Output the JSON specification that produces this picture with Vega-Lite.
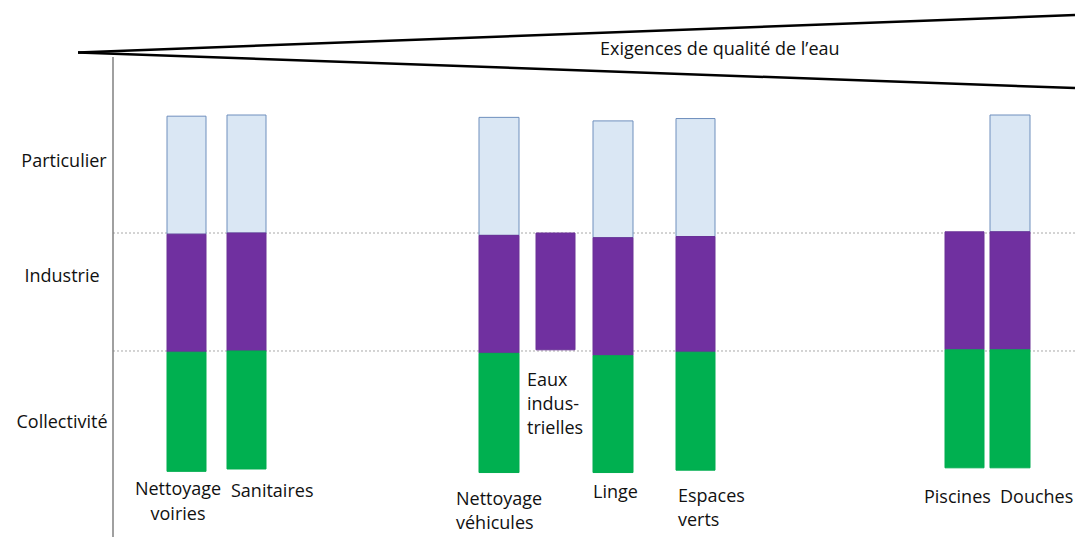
{
  "$schema": "https://vega.github.io/schema/vega-lite/v6.json",
  "autosize": "none",
  "width": 1075,
  "height": 537,
  "padding": 0,
  "background": "white",
  "config": {"view": {"stroke": null}, "text": {"font": "Open Sans", "fontSize": 18, "color": "#111111", "lineHeight": 24, "lineBreak": "\n"}},
  "datasets": {
    "bars": [
      {"usage": "Nettoyage voiries", "segment": "Particulier", "x0": 167, "x1": 206, "lo": 1.99, "hi": 2.99},
      {"usage": "Nettoyage voiries", "segment": "Industrie", "x0": 167, "x1": 206, "lo": 0.99, "hi": 1.99},
      {"usage": "Nettoyage voiries", "segment": "Collectivité", "x0": 167, "x1": 206, "lo": -0.02, "hi": 0.99},
      {"usage": "Sanitaires", "segment": "Particulier", "x0": 227, "x1": 266, "lo": 2.0, "hi": 3.0},
      {"usage": "Sanitaires", "segment": "Industrie", "x0": 227, "x1": 266, "lo": 1.0, "hi": 2.0},
      {"usage": "Sanitaires", "segment": "Collectivité", "x0": 227, "x1": 266, "lo": 0.0, "hi": 1.0},
      {"usage": "Nettoyage véhicules", "segment": "Particulier", "x0": 479, "x1": 519, "lo": 1.98, "hi": 2.98},
      {"usage": "Nettoyage véhicules", "segment": "Industrie", "x0": 479, "x1": 519, "lo": 0.98, "hi": 1.98},
      {"usage": "Nettoyage véhicules", "segment": "Collectivité", "x0": 479, "x1": 519, "lo": -0.03, "hi": 0.98},
      {"usage": "Eaux industrielles", "segment": "Industrie", "x0": 536, "x1": 575, "lo": 1.01, "hi": 2.0},
      {"usage": "Linge", "segment": "Particulier", "x0": 593, "x1": 633, "lo": 1.96, "hi": 2.95},
      {"usage": "Linge", "segment": "Industrie", "x0": 593, "x1": 633, "lo": 0.96, "hi": 1.96},
      {"usage": "Linge", "segment": "Collectivité", "x0": 593, "x1": 633, "lo": -0.03, "hi": 0.96},
      {"usage": "Espaces verts", "segment": "Particulier", "x0": 676, "x1": 715, "lo": 1.97, "hi": 2.97},
      {"usage": "Espaces verts", "segment": "Industrie", "x0": 676, "x1": 715, "lo": 0.99, "hi": 1.97},
      {"usage": "Espaces verts", "segment": "Collectivité", "x0": 676, "x1": 715, "lo": -0.01, "hi": 0.99},
      {"usage": "Piscines", "segment": "Industrie", "x0": 945, "x1": 984, "lo": 1.01, "hi": 2.01},
      {"usage": "Piscines", "segment": "Collectivité", "x0": 945, "x1": 984, "lo": 0.01, "hi": 1.01},
      {"usage": "Douches", "segment": "Particulier", "x0": 990, "x1": 1030, "lo": 2.01, "hi": 3.0},
      {"usage": "Douches", "segment": "Industrie", "x0": 990, "x1": 1030, "lo": 1.01, "hi": 2.01},
      {"usage": "Douches", "segment": "Collectivité", "x0": 990, "x1": 1030, "lo": 0.01, "hi": 1.01}
    ],
    "wedge": [
      {"edge": "haut", "q": 78, "level": 3.53},
      {"edge": "haut", "q": 1075, "level": 3.847},
      {"edge": "bas", "q": 78, "level": 3.53},
      {"edge": "bas", "q": 1075, "level": 3.229}
    ],
    "axisline": [{"q": 113, "top": 3.492, "bottom": -0.58}],
    "grid": [{"level": 2, "q0": 113, "q1": 1075}, {"level": 1, "q0": 113, "q1": 1075}],
    "title": [{"label": "Exigences de qualité de l’eau", "q": 600, "level": 3.508}],
    "rows": [
      {"label": "Particulier", "q": 64, "level": 2.562},
      {"label": "Industrie", "q": 62, "level": 1.587},
      {"label": "Collectivité", "q": 62, "level": 0.345}
    ],
    "labelsCenter": [
      {"label": "Nettoyage\nvoiries", "q": 178, "level": -0.22}
    ],
    "labelsLeft": [
      {"label": "Sanitaires", "q": 231, "level": -0.235},
      {"label": "Nettoyage\nvéhicules", "q": 456, "level": -0.305},
      {"label": "Eaux\nindus-\ntrielles", "q": 527, "level": 0.703},
      {"label": "Linge", "q": 593, "level": -0.248},
      {"label": "Espaces\nverts", "q": 678, "level": -0.282},
      {"label": "Piscines", "q": 924, "level": -0.286},
      {"label": "Douches", "q": 1000, "level": -0.286}
    ]
  },
  "layer": [
    {
      "data": {"name": "grid"},
      "mark": {"type": "rule", "color": "#a8a8a8", "strokeWidth": 1, "strokeDash": [2, 2]},
      "encoding": {
        "x": {"field": "q0", "type": "quantitative", "scale": {"domain": [0, 1075], "nice": false, "zero": false}, "axis": null},
        "x2": {"field": "q1"},
        "y": {"field": "level", "type": "quantitative", "scale": {"domain": [-0.5763, 3.9746], "nice": false, "zero": false}, "axis": null}
      }
    },
    {
      "data": {"name": "bars"},
      "mark": {"type": "rect", "strokeWidth": 1},
      "encoding": {
        "x": {"field": "x0", "type": "quantitative", "scale": {"domain": [0, 1075], "nice": false, "zero": false}, "axis": null},
        "x2": {"field": "x1"},
        "y": {"field": "lo", "type": "quantitative", "scale": {"domain": [-0.5763, 3.9746], "nice": false, "zero": false}, "axis": null},
        "y2": {"field": "hi"},
        "fill": {"field": "segment", "type": "nominal", "scale": {"domain": ["Particulier", "Industrie", "Collectivité"], "range": ["#dae7f4", "#7030a0", "#00b050"]}, "legend": null},
        "stroke": {"field": "segment", "type": "nominal", "scale": {"domain": ["Particulier", "Industrie", "Collectivité"], "range": ["#6f8fbd", "#6a3096", "#00ad4f"]}, "legend": null}
      }
    },
    {
      "data": {"name": "axisline"},
      "mark": {"type": "rule", "color": "#808080", "strokeWidth": 1.5},
      "encoding": {
        "x": {"field": "q", "type": "quantitative", "scale": {"domain": [0, 1075], "nice": false, "zero": false}, "axis": null},
        "y": {"field": "top", "type": "quantitative", "scale": {"domain": [-0.5763, 3.9746], "nice": false, "zero": false}, "axis": null},
        "y2": {"field": "bottom"}
      }
    },
    {
      "data": {"name": "wedge"},
      "mark": {"type": "line", "color": "#000000", "strokeWidth": 2.5, "clip": true},
      "encoding": {
        "x": {"field": "q", "type": "quantitative", "scale": {"domain": [0, 1075], "nice": false, "zero": false}, "axis": null},
        "y": {"field": "level", "type": "quantitative", "scale": {"domain": [-0.5763, 3.9746], "nice": false, "zero": false}, "axis": null},
        "detail": {"field": "edge", "type": "nominal"}
      }
    },
    {
      "data": {"name": "title"},
      "mark": {"type": "text", "align": "left", "baseline": "alphabetic"},
      "encoding": {
        "x": {"field": "q", "type": "quantitative", "scale": {"domain": [0, 1075], "nice": false, "zero": false}, "axis": null},
        "y": {"field": "level", "type": "quantitative", "scale": {"domain": [-0.5763, 3.9746], "nice": false, "zero": false}, "axis": null},
        "text": {"field": "label"}
      }
    },
    {
      "data": {"name": "rows"},
      "mark": {"type": "text", "align": "center", "baseline": "alphabetic"},
      "encoding": {
        "x": {"field": "q", "type": "quantitative", "scale": {"domain": [0, 1075], "nice": false, "zero": false}, "axis": null},
        "y": {"field": "level", "type": "quantitative", "scale": {"domain": [-0.5763, 3.9746], "nice": false, "zero": false}, "axis": null},
        "text": {"field": "label"}
      }
    },
    {
      "data": {"name": "labelsCenter"},
      "mark": {"type": "text", "align": "center", "baseline": "alphabetic", "lineHeight": 25},
      "encoding": {
        "x": {"field": "q", "type": "quantitative", "scale": {"domain": [0, 1075], "nice": false, "zero": false}, "axis": null},
        "y": {"field": "level", "type": "quantitative", "scale": {"domain": [-0.5763, 3.9746], "nice": false, "zero": false}, "axis": null},
        "text": {"field": "label"}
      }
    },
    {
      "data": {"name": "labelsLeft"},
      "mark": {"type": "text", "align": "left", "baseline": "alphabetic", "lineHeight": 24},
      "encoding": {
        "x": {"field": "q", "type": "quantitative", "scale": {"domain": [0, 1075], "nice": false, "zero": false}, "axis": null},
        "y": {"field": "level", "type": "quantitative", "scale": {"domain": [-0.5763, 3.9746], "nice": false, "zero": false}, "axis": null},
        "text": {"field": "label"}
      }
    }
  ]
}
